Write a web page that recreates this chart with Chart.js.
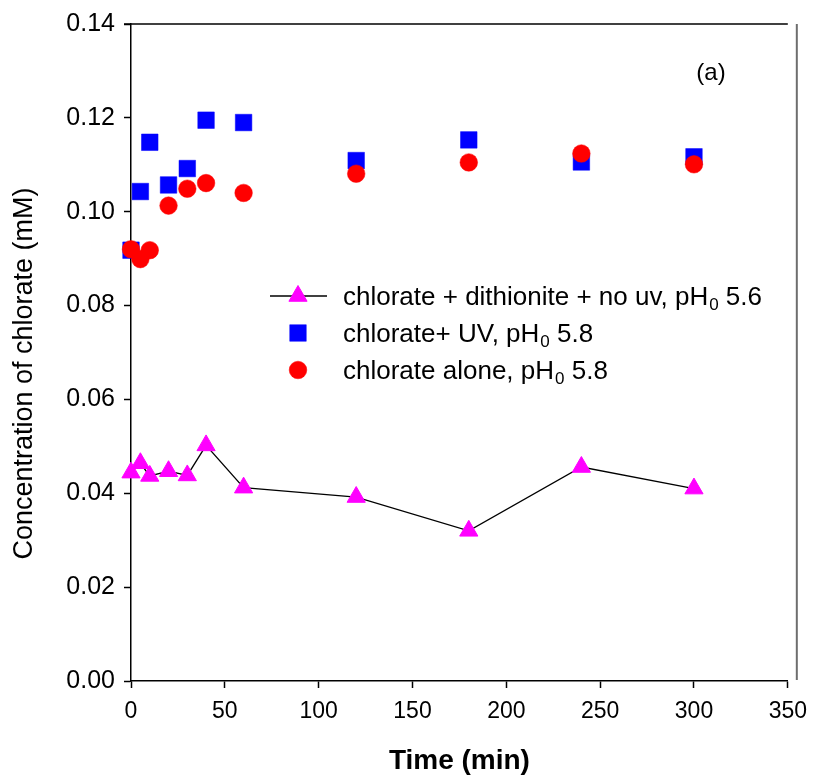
<!DOCTYPE html>
<html><head><meta charset="utf-8">
<script src="https://cdn.jsdelivr.net/npm/chart.js@4/dist/chart.umd.min.js"></script>
<style>html,body{margin:0;padding:0;background:#fff}#wrap{position:relative;width:817px;height:778px}</style>
</head><body><div id="wrap"><canvas id="c" width="817" height="778"></canvas></div>
<script>
// ---- data ----
const timeDithionite = [0, 5, 10, 20, 30, 40, 60, 120, 180, 240, 300];
const concDithionite = [0.0444, 0.0464, 0.0437, 0.0447, 0.0438, 0.0502, 0.0412, 0.0392, 0.0320, 0.0456, 0.0410];
const timeUV = [0, 5, 10, 20, 30, 40, 60, 120, 180, 240, 300];
const concUV = [0.0918, 0.1043, 0.1148, 0.1057, 0.1092, 0.1195, 0.1190, 0.1109, 0.1153, 0.1106, 0.1117];
const timeAlone = [0, 5, 10, 20, 30, 40, 60, 120, 180, 240, 300];
const concAlone = [0.0920, 0.0899, 0.0918, 0.1013, 0.1049, 0.1061, 0.1040, 0.1081, 0.1105, 0.1124, 0.1101];
const xTickLabels = ['0', '50', '100', '150', '200', '250', '300', '350'];
const yTickLabels = ['0.00', '0.02', '0.04', '0.06', '0.08', '0.10', '0.12', '0.14'];
// legend label parts: [before subscript, subscript, after subscript]
const legendDithionite = ['chlorate + dithionite + no uv, pH', '0', ' 5.6'];
const legendUV = ['chlorate+ UV, pH', '0', ' 5.8'];
const legendAlone = ['chlorate alone, pH', '0', ' 5.8'];
const xTitle = 'Time (min)';
const yTitle = 'Concentration of chlorate (mM)';
const panelLabel = '(a)';

const FONT = '"Liberation Sans", Arial, sans-serif';
const toPts = (xs, ys) => xs.map((x, i) => ({x: x, y: ys[i]}));

const datasets = [
  {label: legendDithionite.join(''), data: toPts(timeDithionite, concDithionite), showLine: true, clip: false,
   borderColor: '#000', borderWidth: 1.3, pointStyle: 'triangle', pointRadius: 10.5,
   pointBackgroundColor: '#FF00FF', pointBorderColor: '#FF00FF', pointBorderWidth: 1, order: 2, parts: legendDithionite},
  {label: legendUV.join(''), data: toPts(timeUV, concUV), showLine: false, clip: false,
   pointStyle: 'rect', pointRadius: 11.7, pointBackgroundColor: '#0000FF', pointBorderColor: '#0000FF',
   pointBorderWidth: 0.5, order: 1, parts: legendUV},
  {label: legendAlone.join(''), data: toPts(timeAlone, concAlone), showLine: false, clip: false,
   pointStyle: 'circle', pointRadius: 8.8, pointBackgroundColor: '#FF0000', pointBorderColor: '#FF0000',
   pointBorderWidth: 0.5, order: 0, parts: legendAlone}
];

const framePlugin = {
  id: 'frame',
  afterDraw(chart) {
    const {ctx, chartArea: a} = chart;
    ctx.save();
    // top frame line
    ctx.strokeStyle = '#000'; ctx.lineWidth = 1.5;
    ctx.beginPath(); ctx.moveTo(a.left - 7, a.top); ctx.lineTo(a.right, a.top); ctx.stroke();
    // gray outer line on right
    ctx.strokeStyle = '#6e6e6e'; ctx.lineWidth = 2;
    ctx.beginPath(); ctx.moveTo(a.right + 9, a.top); ctx.lineTo(a.right + 9, a.bottom - 1); ctx.stroke();
    // y axis title
    ctx.save();
    ctx.fillStyle = '#000'; ctx.font = '27px ' + FONT; ctx.textAlign = 'center'; ctx.textBaseline = 'middle';
    ctx.translate(25, (a.top + a.bottom) / 2 + 21);
    ctx.rotate(-Math.PI / 2);
    ctx.fillText(yTitle, 0, 0);
    ctx.restore();
    // panel label
    ctx.fillStyle = '#000'; ctx.font = '24px ' + FONT; ctx.textAlign = 'center'; ctx.textBaseline = 'middle';
    ctx.fillText(panelLabel, a.left + 580, a.top + 49);
    // legend
    const lx = a.left + 139, sx = a.left + 167, tx = a.left + 212;
    let ly = a.top + 272;
    const rowH = 37;
    chart.data.datasets.forEach((ds) => {
      if (ds.showLine) {
        ctx.strokeStyle = ds.borderColor; ctx.lineWidth = ds.borderWidth;
        ctx.beginPath(); ctx.moveTo(lx, ly); ctx.lineTo(lx + 57, ly); ctx.stroke();
      }
      ctx.fillStyle = ds.pointBackgroundColor; ctx.strokeStyle = ds.pointBorderColor;
      ctx.lineWidth = ds.pointBorderWidth;
      Chart.helpers.drawPoint(ctx, {pointStyle: ds.pointStyle, radius: ds.pointRadius, rotation: 0,
        borderWidth: ds.pointBorderWidth}, sx, ly);
      // text with subscript
      const [p1, sub, p2] = ds.parts;
      ctx.fillStyle = '#000'; ctx.textAlign = 'left'; ctx.textBaseline = 'alphabetic';
      ctx.font = '26px ' + FONT;
      const base = ly + 9;
      ctx.fillText(p1, tx, base);
      let x = tx + ctx.measureText(p1).width;
      ctx.font = '17px ' + FONT;
      ctx.fillText(sub, x + 1, base + 5);
      x += ctx.measureText(sub).width + 1;
      ctx.font = '26px ' + FONT;
      ctx.fillText(p2, x, base);
      ly += rowH;
    });
    ctx.restore();
  }
};

const gridCommon = {drawOnChartArea: false, drawTicks: true, tickLength: 7, tickColor: '#000', tickWidth: 1.5};

new Chart(document.getElementById('c'), {
  type: 'scatter',
  data: {datasets: datasets},
  options: {
    responsive: false, animation: false, devicePixelRatio: 1,
    layout: {padding: {left: 0, right: 27, top: 22, bottom: 0}},
    plugins: {legend: {display: false}, tooltip: {enabled: false}},
    scales: {
      x: {type: 'linear', position: 'bottom', min: 0, max: 350,
        ticks: {stepSize: 50, padding: 10, maxRotation: 0, autoSkip: false, color: '#000',
          font: {family: FONT, size: 23}, callback: (v, i) => xTickLabels[i]},
        grid: gridCommon, border: {display: true, color: '#000', width: 1.5},
        title: {display: true, text: xTitle, color: '#000', font: {family: FONT, size: 28, weight: 'bold'}, padding: {top: 0, bottom: 0}},
        afterFit: (s) => { s.height = 97; }
      },
      y: {type: 'linear', position: 'left', min: 0, max: 0.14,
        ticks: {stepSize: 0.02, padding: 9, autoSkip: false, color: '#000',
          font: {family: FONT, size: 25}, callback: (v, i) => yTickLabels[i]},
        grid: gridCommon, border: {display: true, color: '#000', width: 1.5},
        title: {display: false, text: yTitle},
        afterFit: (s) => { s.width = 131; }
      }
    }
  },
  plugins: [framePlugin]
});
</script></body></html>
